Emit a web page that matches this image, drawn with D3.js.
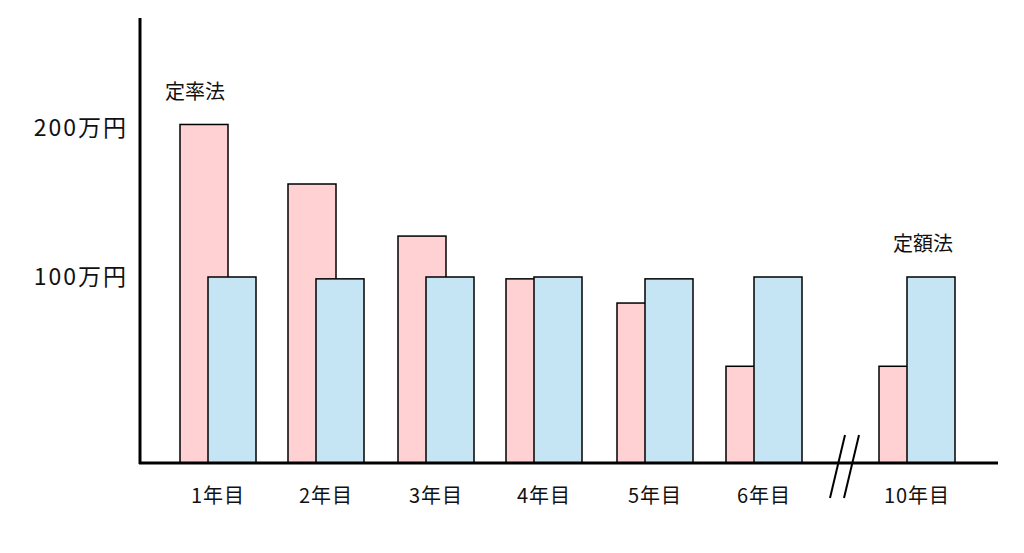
<!DOCTYPE html><html><head><meta charset="utf-8"><script src="https://cdn.jsdelivr.net/npm/d3@7"></script>
<style>body{margin:0;background:#fff}text{font-family:"Noto Sans CJK JP",sans-serif;fill:#111}</style></head><body><svg width="1024" height="553"></svg>
<script>
const categories=["1年目","2年目","3年目","4年目","5年目","6年目","10年目"];
const decliningValues=[182,150,122,99,86,52,52];
const straightValues=[100,99,100,100,99,100,100];
const tickValues=[180,100];
const tickLabels=["200万円","100万円"];
const svg=d3.select("svg");
const y=d3.scaleLinear().domain([0,100]).range([463,277]);
const x=d3.scaleOrdinal().domain(categories).range([180,288,398,506,617,726,879]);
const w=48;
categories.forEach((c,i)=>{
  svg.append("rect").attr("x",x(c)).attr("y",y(decliningValues[i])).attr("width",w).attr("height",y(0)-y(decliningValues[i])).attr("fill","#ffd1d3").attr("stroke","#000").attr("stroke-width",1.5);
  svg.append("rect").attr("x",x(c)+28).attr("y",y(straightValues[i])).attr("width",w).attr("height",y(0)-y(straightValues[i])).attr("fill","#c5e5f5").attr("stroke","#000").attr("stroke-width",1.5);
  svg.append("text").attr("x",x(c)+38).attr("y",503).attr("text-anchor","middle").attr("font-size",20).attr("letter-spacing",1).text(c);
});
svg.append("line").attr("x1",140).attr("x2",140).attr("y1",18).attr("y2",464).attr("stroke","#000").attr("stroke-width",3);
svg.append("line").attr("x1",139).attr("x2",998).attr("y1",463).attr("y2",463).attr("stroke","#000").attr("stroke-width",3);
tickValues.forEach((v,i)=>svg.append("text").attr("x",128).attr("y",y(v)+8).attr("text-anchor","end").attr("font-size",23).attr("letter-spacing",2).text(tickLabels[i]));
[[838,845],[852,859]].forEach(([a,b])=>svg.append("line").attr("x1",b).attr("y1",435).attr("x2",a-8).attr("y2",498).attr("stroke","#000").attr("stroke-width",2));
svg.append("text").attr("x",165).attr("y",99).attr("font-size",20).text("定率法");
svg.append("text").attr("x",893).attr("y",251).attr("font-size",20).text("定額法");
</script></body></html>
